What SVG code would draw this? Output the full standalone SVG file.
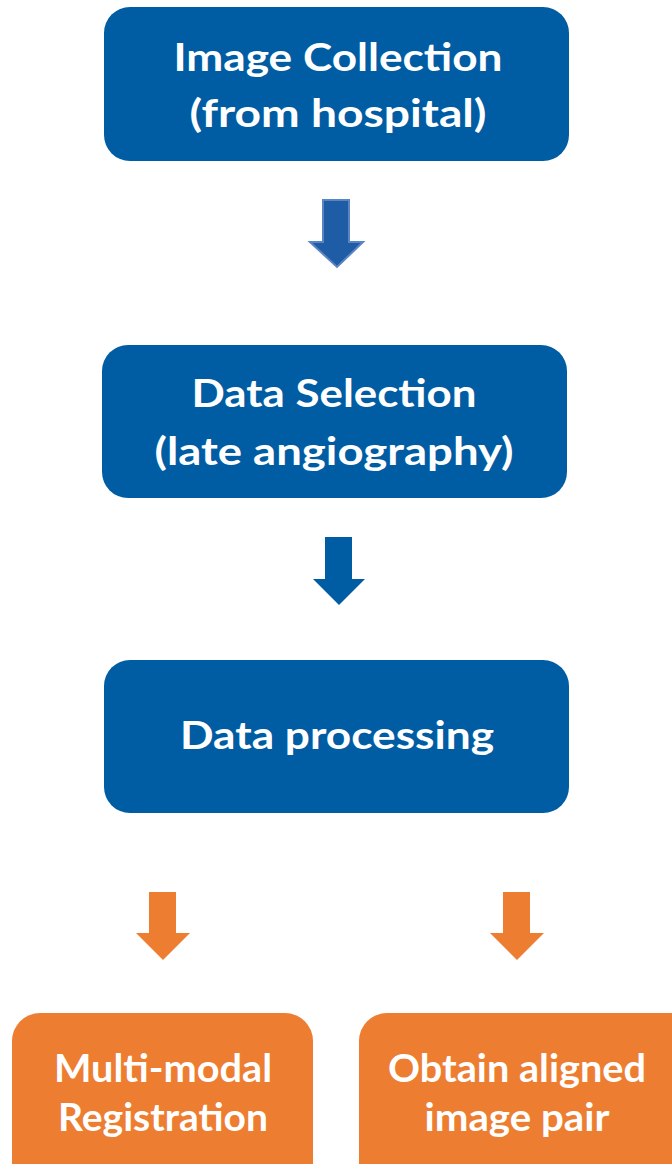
<svg xmlns="http://www.w3.org/2000/svg" width="672" height="1164" viewBox="0 0 672 1164">
  <style>
    .blue { fill: #015DA3; }
    .orange { fill: #ED7D31; }
    .label { font-family: Lato, "Open Sans", "Liberation Sans", sans-serif; font-weight: 700; font-size: 39px; fill: #FFFFFF; text-anchor: middle; }
  </style>
  <rect width="672" height="1164" fill="#FFFFFF"/>

  <g id="image-collection">
    <rect class="blue" x="104" y="7" width="465" height="154" rx="26"/>
    <text class="label" x="338" y="71" textLength="329" lengthAdjust="spacingAndGlyphs">Image Collection</text>
    <text class="label" x="338" y="127" textLength="297" lengthAdjust="spacingAndGlyphs">(from hospital)</text>
  </g>

  <g id="data-selection">
    <rect class="blue" x="102" y="345" width="465" height="153" rx="26"/>
    <text class="label" x="334" y="407" textLength="285" lengthAdjust="spacingAndGlyphs">Data Selection</text>
    <text class="label" x="334" y="465" textLength="359" lengthAdjust="spacingAndGlyphs">(late angiography)</text>
  </g>

  <g id="data-processing">
    <rect class="blue" x="104" y="660" width="465" height="153" rx="26"/>
    <text class="label" x="337" y="749" textLength="314" lengthAdjust="spacingAndGlyphs">Data processing</text>
  </g>

  <g id="multi-modal-registration">
    <rect class="orange" x="12" y="1013" width="301" height="180" rx="28"/>
    <text class="label" x="163" y="1082" textLength="218" lengthAdjust="spacingAndGlyphs">Multi-modal</text>
    <text class="label" x="163" y="1131" textLength="210" lengthAdjust="spacingAndGlyphs">Registration</text>
  </g>

  <g id="aligned-image-pair">
    <rect class="orange" x="359" y="1013" width="340" height="180" rx="28"/>
    <text class="label" x="517" y="1082" textLength="258" lengthAdjust="spacingAndGlyphs">Obtain aligned</text>
    <text class="label" x="517" y="1131" textLength="185" lengthAdjust="spacingAndGlyphs">image pair</text>
  </g>

  <g id="connectors">
    <polygon points="323,200 349,200 349,242 363,242 337,267 310,242 323,242" fill="#1F5CA6" stroke="#5A84C4" stroke-width="2" stroke-linejoin="miter"/>
    <polygon class="blue" points="325,537 352,537 352,579 365,579 339,605 313,579 325,579"/>
    <polygon class="orange" points="149,892 176,892 176,933 190,933 163,960 136,933 149,933"/>
    <polygon class="orange" points="503,892 530,892 530,933 544,933 517,960 490,933 503,933"/>
  </g>
</svg>
